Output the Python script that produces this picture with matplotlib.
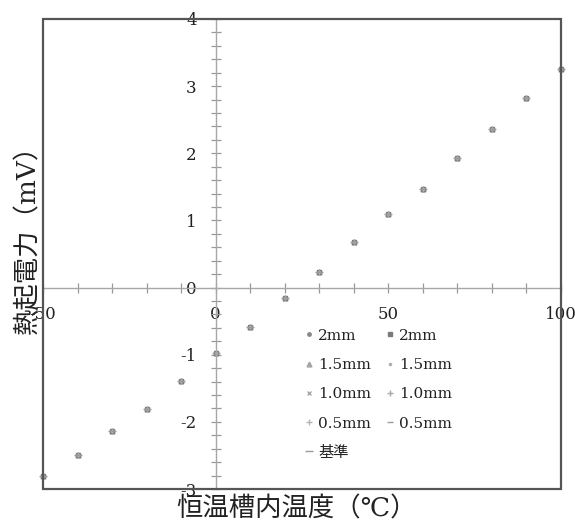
import matplotlib
matplotlib.use("Agg")
import matplotlib.pyplot as plt
from matplotlib import patches
from matplotlib.ticker import MultipleLocator

plt.rcParams['font.family'] = ['DejaVu Serif', 'Noto Sans CJK JP']
plt.rcParams['axes.unicode_minus'] = False

# temperature of the bath (deg C) and measured thermo-EMF (mV)
temps = [-50, -40, -30, -20, -10, 0, 10, 20, 30, 40, 50, 60, 70, 80, 90, 100]
emf = [-2.81, -2.49, -2.14, -1.81, -1.39, -0.98, -0.59, -0.15, 0.23,
       0.68, 1.09, 1.47, 1.93, 2.36, 2.82, 3.25]

series_labels = ["2mm", "1.5mm", "1.0mm", "0.5mm", "基準", "2mm", "1.5mm", "1.0mm", "0.5mm"]
markers = [".", "^", "x", "+", "_", "s", ".", "+", "_"]
sizes = [5, 3.5, 3.5, 5, 6, 3.5, 3, 4, 5]
colors = ["#8a8a8a", "#a5a5a5", "#a8a8a8", "#b5b5b5", "#9a9a9a",
          "#7a7a7a", "#acacac", "#a8a8a8", "#9a9a9a"]

fig = plt.figure(figsize=(5.75, 5.2), dpi=100)
ax = fig.add_axes([0.0748, 0.0596, 0.9, 0.904])

handles = []
for lab, m, s, c in zip(series_labels, markers, sizes, colors):
    h, = ax.plot(temps, emf, linestyle="none", marker=m, markersize=s,
                 color=c, markeredgewidth=1.0, label=lab, clip_on=False)
    handles.append(h)

ax.set_xlim(-50, 100)
ax.set_ylim(-3, 4)

# axes crossing at the origin, plus a dark frame round the plot
for side in ("left", "bottom"):
    ax.spines[side].set_position(("data", 0))
    ax.spines[side].set_color("#a8a8a8")
    ax.spines[side].set_linewidth(1.0)
for side in ("top", "right"):
    ax.spines[side].set_visible(False)
frame = patches.Rectangle((0, 0), 1, 1, transform=ax.transAxes, fill=False,
                          edgecolor="#555555", linewidth=1.6, clip_on=False, zorder=5)
ax.add_patch(frame)

ax.xaxis.set_major_locator(MultipleLocator(50))
ax.xaxis.set_minor_locator(MultipleLocator(10))
ax.yaxis.set_major_locator(MultipleLocator(1))
ax.yaxis.set_minor_locator(MultipleLocator(0.2))
ax.tick_params(which="both", direction="inout", length=7, width=0.9,
               color="#999999", labelsize=12, labelcolor="#222222", pad=10)

ax.set_xlabel("恒温槽内温度（℃）", fontsize=19, color="#222222")
ax.set_ylabel("熱起電力（mV）", fontsize=19, color="#222222")
ax.xaxis.set_label_coords(0.49, -0.015)
ax.yaxis.set_label_coords(-0.006, 0.545)

ax.legend(handles=handles, ncol=2, frameon=False, fontsize=11,
          loc="upper left", bbox_to_anchor=(0.49, 0.354), borderaxespad=0,
          handlelength=0.8, handletextpad=0.2, columnspacing=0.85,
          labelspacing=1.0, labelcolor="#222222")

fig.savefig("out.png", dpi=100)
